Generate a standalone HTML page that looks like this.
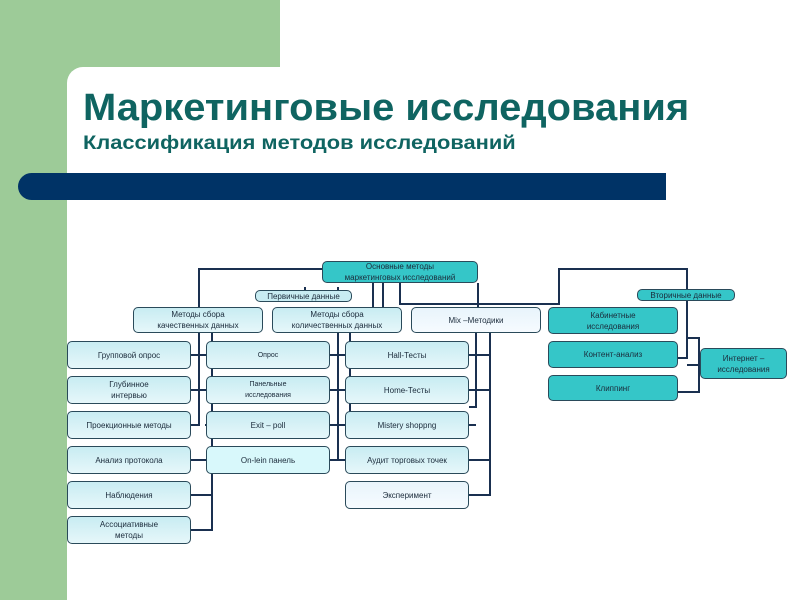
<!DOCTYPE html>
<html><head><meta charset="utf-8"><style>
body{margin:0;width:800px;height:600px;overflow:hidden;background:#fff;position:relative;font-family:"Liberation Sans","DejaVu Sans",sans-serif}
.g1{position:absolute;left:0;top:0;width:280px;height:67px;background:#9dcb98}
.g2{position:absolute;left:0;top:0;width:67px;height:600px;background:#9dcb98}
.gc{position:absolute;left:67px;top:67px;width:20px;height:20px;background:#9dcb98}
.wc{position:absolute;left:67px;top:67px;width:40px;height:40px;background:#fff;border-top-left-radius:16px}
h1{position:absolute;left:83px;top:87px;margin:0;font-size:38px;font-weight:bold;color:#0f6461;transform:scaleX(1.05);transform-origin:left;white-space:nowrap}
h2{position:absolute;left:83px;top:133px;margin:0;font-size:19px;font-weight:bold;color:#0f6461;transform:scaleX(1.15);transform-origin:left;white-space:nowrap}
.bar{position:absolute;left:18px;top:173px;width:648px;height:27px;background:#003366;border-radius:14px 0 0 14px}
.b{position:absolute;box-sizing:border-box;border:1px solid #2a4a5a;border-radius:5px;background:linear-gradient(#c8ecf2,#e6f7fa);font-size:8px;color:#1a2a3a;display:flex;align-items:center;justify-content:center;text-align:center;line-height:11px}
.t{background:#35c6c8}
.l{background:linear-gradient(#e8f4fb,#f6fbff)}
svg{position:absolute;left:0;top:0}
</style></head><body>
<div class="g1"></div><div class="g2"></div><div class="gc"></div><div class="wc"></div>
<h1>Маркетинговые исследования</h1>
<h2>Классификация методов исследований</h2>
<div class="bar"></div>
<svg width="800" height="600" fill="none" stroke="#1a3050" stroke-width="2">
<path d="M322 269H199V307"/>
<path d="M400 283V304H559V269H687V358H678"/>
<path d="M478 283V307"/>
<path d="M373 283V320M383 283V320M305 287V300M338 287V297"/>
<path d="M199 333V425H191M212 333V530H191M191 355H212M191 390H212M191 460H212M191 495H212M205 355H212M205 390H212M205 425H212"/>
<path d="M338 333V460M350 333V425M330 355H345M330 390H345M330 425H345M330 460H345"/>
<path d="M476 333V407H469M490 333V495H469M469 355H490M469 390H490M469 460H490M469 425H476"/>
<path d="M687 338H699V392H678M699 365H687"/>
</svg>
<div class="b t" style="left:322px;top:261px;width:156px;height:22px">Основные методы<br>маркетинговых исследований</div>
<div class="b t" style="left:255px;top:290px;width:97px;height:12px;background:#c8ecf2">Первичные данные</div>
<div class="b t" style="left:637px;top:289px;width:98px;height:12px">Вторичные данные</div>
<div class="b" style="left:133px;top:307px;width:130px;height:26px">Методы сбора<br>качественных данных</div>
<div class="b" style="left:272px;top:307px;width:130px;height:26px">Методы сбора<br>количественных данных</div>
<div class="b l" style="left:411px;top:307px;width:130px;height:26px">Mix –Методики</div>
<div class="b t" style="left:548px;top:307px;width:130px;height:27px">Кабинетные<br>исследования</div>
<div class="b t" style="left:548px;top:341px;width:130px;height:27px">Контент-анализ</div>
<div class="b t" style="left:548px;top:375px;width:130px;height:26px">Клиппинг</div>
<div class="b t" style="left:700px;top:348px;width:87px;height:31px">Интернет –<br>исследования</div>
<div class="b" style="left:67px;top:341px;width:124px;height:28px">Групповой опрос</div>
<div class="b" style="left:67px;top:376px;width:124px;height:28px">Глубинное<br>интервью</div>
<div class="b" style="left:67px;top:411px;width:124px;height:28px">Проекционные методы</div>
<div class="b" style="left:67px;top:446px;width:124px;height:28px">Анализ протокола</div>
<div class="b" style="left:67px;top:481px;width:124px;height:28px">Наблюдения</div>
<div class="b" style="left:67px;top:516px;width:124px;height:28px">Ассоциативные<br>методы</div>
<div class="b" style="left:206px;top:341px;width:124px;height:28px;font-size:7px">Опрос</div>
<div class="b" style="left:206px;top:376px;width:124px;height:28px;font-size:7px">Панельные<br>исследования</div>
<div class="b" style="left:206px;top:411px;width:124px;height:28px">Exit – poll</div>
<div class="b" style="left:206px;top:446px;width:124px;height:28px;background:#d8f8fb">On-lein панель</div>
<div class="b" style="left:345px;top:341px;width:124px;height:28px">Hall-Тесты</div>
<div class="b" style="left:345px;top:376px;width:124px;height:28px">Home-Тесты</div>
<div class="b" style="left:345px;top:411px;width:124px;height:28px">Mistery shoppng</div>
<div class="b" style="left:345px;top:446px;width:124px;height:28px">Аудит торговых точек</div>
<div class="b l" style="left:345px;top:481px;width:124px;height:28px">Эксперимент</div>
</body></html>
